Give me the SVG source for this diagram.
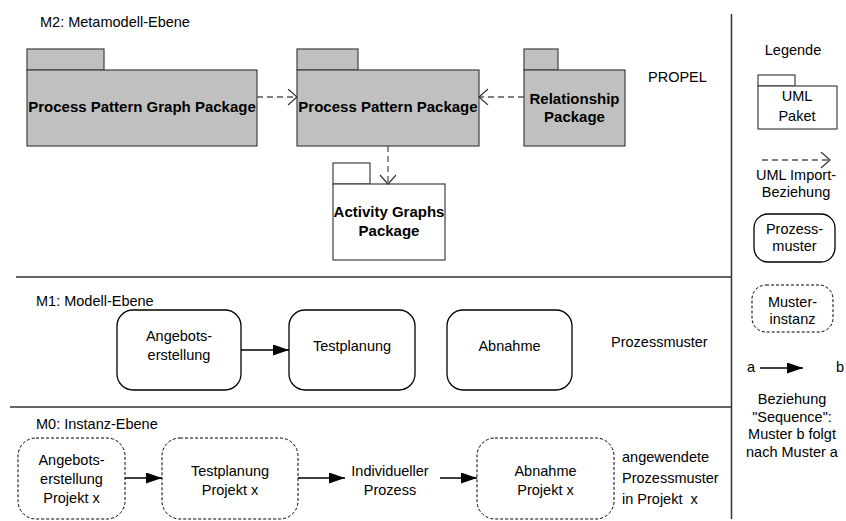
<svg xmlns="http://www.w3.org/2000/svg" width="846" height="521" viewBox="0 0 846 521">
  <style>
    text { font-family: "Liberation Sans", Arial, sans-serif; font-size: 14.5px; fill: #000; }
    .b { font-weight: bold; font-size: 15px; }
    .m { text-anchor: middle; }
    .pre { white-space: pre; }
    .pkg { fill: #c0c0c0; stroke: #404040; stroke-width: 1.2; }
    .pkg-w { fill: #fff; stroke: #404040; stroke-width: 1.2; }
    .proc { fill: #fff; stroke: #000; stroke-width: 1.3; }
    .inst { fill: #fff; stroke: #000; stroke-width: 1; stroke-dasharray: 3 2; }
    .sep { stroke: #333; stroke-width: 1.5; }
    .imp { fill: none; stroke: #555; stroke-width: 1.3; stroke-dasharray: 6 4; marker-end: url(#open); }
    .seq { fill: none; stroke: #000; stroke-width: 1.5; marker-end: url(#solid); }
  </style>
  <defs>
    <marker id="open" markerUnits="userSpaceOnUse" markerWidth="12" markerHeight="18" refX="10" refY="8" orient="auto">
      <path d="M1,0 L10,8 L1,16" fill="none" stroke="#333" stroke-width="1.2"/>
    </marker>
    <marker id="solid" markerUnits="userSpaceOnUse" markerWidth="16" markerHeight="11" refX="16" refY="5.5" orient="auto">
      <path d="M0,0 L16,5.5 L0,11 z" fill="#000"/>
    </marker>
  </defs>

  <!-- level separators -->
  <g id="separators">
    <line class="sep" x1="16" y1="277" x2="732" y2="277"/>
    <line class="sep" x1="10" y1="407" x2="732" y2="407"/>
    <line class="sep" x1="731.5" y1="14" x2="731.5" y2="519"/>
  </g>

  <!-- level titles -->
  <g id="titles">
    <text x="40" y="27">M2: Metamodell-Ebene</text>
    <text x="648" y="82">PROPEL</text>
    <text x="36" y="306">M1: Modell-Ebene</text>
    <text x="611" y="347">Prozessmuster</text>
    <text x="36" y="429">M0: Instanz-Ebene</text>
    <text x="622" y="462">angewendete</text>
    <text x="622" y="483">Prozessmuster</text>
    <text x="622" y="504" class="pre">in Projekt  x</text>
  </g>

  <!-- M2 packages -->
  <g id="pkg-graph">
    <rect class="pkg" x="27" y="49" width="77" height="21"/>
    <rect class="pkg" x="27" y="70" width="230" height="76"/>
    <text class="b m" x="142" y="112">Process Pattern Graph Package</text>
  </g>
  <g id="pkg-pattern">
    <rect class="pkg" x="297" y="49" width="61" height="21"/>
    <rect class="pkg" x="297" y="70" width="182" height="76"/>
    <text class="b m" x="388" y="112">Process Pattern Package</text>
  </g>
  <g id="pkg-relationship">
    <rect class="pkg" x="524" y="49" width="34" height="21"/>
    <rect class="pkg" x="524" y="70" width="101" height="76"/>
    <text class="b m" x="574.5" y="104">Relationship</text>
    <text class="b m" x="574.5" y="122">Package</text>
  </g>
  <g id="pkg-activity">
    <rect class="pkg-w" x="333" y="163" width="37" height="21"/>
    <rect class="pkg-w" x="333" y="184" width="112" height="76"/>
    <text class="b m" x="389" y="217">Activity Graphs</text>
    <text class="b m" x="389" y="236">Package</text>
  </g>

  <!-- M1 process patterns -->
  <g id="m1-angebot">
    <rect class="proc" x="117" y="310" width="124" height="80" rx="16"/>
    <text class="m" x="179" y="341">Angebots-</text>
    <text class="m" x="179" y="360">erstellung</text>
  </g>
  <g id="m1-test">
    <rect class="proc" x="289" y="310" width="126" height="80" rx="16"/>
    <text class="m" x="352" y="351">Testplanung</text>
  </g>
  <g id="m1-abnahme">
    <rect class="proc" x="447" y="310" width="125" height="80" rx="16"/>
    <text class="m" x="509.5" y="351">Abnahme</text>
  </g>

  <!-- M0 pattern instances -->
  <g id="m0-angebot">
    <rect class="inst" x="18" y="438" width="107" height="81" rx="18"/>
    <text class="m" x="71.5" y="465">Angebots-</text>
    <text class="m" x="71.5" y="484">erstellung</text>
    <text class="m" x="71.5" y="503">Projekt x</text>
  </g>
  <g id="m0-test">
    <rect class="inst" x="162" y="438" width="136" height="81" rx="18"/>
    <text class="m" x="230" y="476">Testplanung</text>
    <text class="m" x="230" y="495">Projekt x</text>
  </g>
  <g id="m0-individuell">
    <text class="m" x="390" y="476">Individueller</text>
    <text class="m" x="390" y="495">Prozess</text>
  </g>
  <g id="m0-abnahme">
    <rect class="inst" x="477" y="438" width="137" height="81" rx="18"/>
    <text class="m" x="545.5" y="476">Abnahme</text>
    <text class="m" x="545.5" y="495">Projekt x</text>
  </g>

  <!-- connectors -->
  <g id="connectors">
    <line class="imp" x1="257" y1="97" x2="297" y2="97"/>
    <line class="imp" x1="524" y1="97" x2="479" y2="97"/>
    <line class="imp" x1="388" y1="146" x2="388" y2="184"/>
    <line class="seq" x1="241" y1="350" x2="289" y2="350"/>
    <line class="seq" x1="125" y1="478" x2="162" y2="478"/>
    <line class="seq" x1="298" y1="478" x2="345" y2="478"/>
    <line class="seq" x1="440" y1="478" x2="477" y2="478"/>
  </g>

  <!-- legend -->
  <g id="legend">
    <text class="m" x="793" y="55">Legende</text>
    <rect class="pkg-w" x="758" y="75" width="37" height="11"/>
    <rect class="pkg-w" x="758" y="86" width="79" height="43"/>
    <text class="m" x="797" y="101">UML</text>
    <text class="m" x="797" y="121">Paket</text>
    <line class="imp" x1="762" y1="160" x2="830" y2="160"/>
    <text class="m" x="796" y="180">UML Import-</text>
    <text class="m" x="796" y="197">Beziehung</text>
    <rect class="proc" x="754" y="214" width="81" height="48" rx="14"/>
    <text class="m" x="794.5" y="234">Prozess-</text>
    <text class="m" x="794.5" y="251">muster</text>
    <rect class="inst" x="752" y="285" width="81" height="47" rx="14"/>
    <text class="m" x="792.5" y="307">Muster-</text>
    <text class="m" x="792.5" y="324">instanz</text>
    <text class="m" x="751" y="372">a</text>
    <line class="seq" x1="760" y1="368" x2="803" y2="368"/>
    <text class="m" x="840" y="372">b</text>
    <text class="m" x="792" y="404">Beziehung</text>
    <text class="m" x="792" y="422">"Sequence":</text>
    <text class="m" x="792" y="439">Muster b folgt</text>
    <text class="m" x="792" y="457">nach Muster a</text>
  </g>
</svg>
